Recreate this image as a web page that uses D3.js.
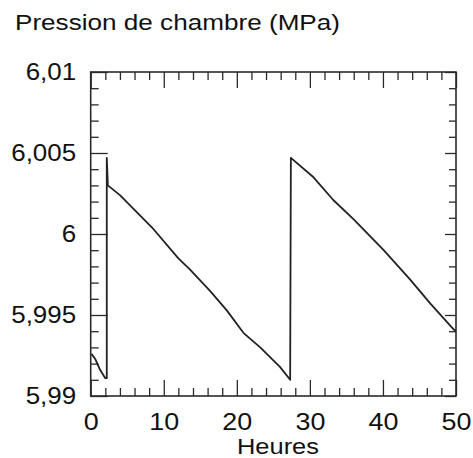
<!DOCTYPE html>
<html>
<head>
<meta charset="utf-8">
<script src="https://cdn.jsdelivr.net/npm/d3@7/dist/d3.min.js"></script>
<style>
  html, body { margin: 0; padding: 0; background: #fff; }
  text { font-family: "Liberation Sans", Arial, Helvetica, sans-serif; fill: #111; }
</style>
</head>
<body>
<svg id="chart" width="473" height="458"></svg>
<script>
// ---- data ----
const hours = [0.1, 0.6, 1.3, 2.0, 2.2, 2.2, 2.35, 4.0, 8.4, 12.0, 13.6, 16.3, 18.6, 20.9, 23.2, 25.9, 27.3,
               27.4, 30.5, 33.2, 36.0, 40.1, 43.7, 46.5, 49.7, 50.0];
const pressure = [5.9926, 5.9923, 5.9916, 5.9911, 5.9911, 6.0047, 6.0030, 6.0024, 6.0004, 5.9985, 5.9978,
                  5.9965, 5.9953, 5.9939, 5.9930, 5.9918, 5.9910,
                  6.0047, 6.0035, 6.0021, 6.0009, 5.9990, 5.9972, 5.9957, 5.9941, 5.9940];
const xTicks = [0, 10, 20, 30, 40, 50];
const xTickLabels = ["0", "10", "20", "30", "40", "50"];
const xMinorTicks = [2, 4, 6, 8, 12, 14, 16, 18, 22, 24, 26, 28, 32, 34, 36, 38, 42, 44, 46, 48];
const yTicks = [5.99, 5.995, 6, 6.005, 6.01];
const yTickLabels = ["5,99", "5,995", "6", "6,005", "6,01"];
const yMinorTicks = [5.991, 5.992, 5.993, 5.994, 5.996, 5.997, 5.998, 5.999, 6.001, 6.002, 6.003, 6.004,
                     6.006, 6.007, 6.008, 6.009];
const titleText = "Pression de chambre (MPa)";
const xTitle = "Heures";

// ---- layout ----
const L = 90.7, R = 456, T = 72, B = 396;
const svg = d3.select("#chart");
const x = d3.scaleLinear().domain([0, 50]).range([L, R]);
const y = d3.scaleLinear().domain([5.99, 6.01]).range([B, T]);
const stroke = "#2a2a2a";

function styleAxis(g) {
  g.select(".domain").remove();
  g.selectAll(".tick line").attr("stroke", stroke).attr("stroke-width", 1.3);
}
function stretch(sel, k) {
  sel.each(function () {
    const w = this.getComputedTextLength();
    d3.select(this).attr("textLength", w * k).attr("lengthAdjust", "spacingAndGlyphs");
  });
}

// bottom axis
const gb = svg.append("g").attr("transform", `translate(0,${B})`)
  .call(d3.axisBottom(x).tickValues(xTicks).tickSize(-16).tickPadding(17)
        .tickFormat((d, i) => xTickLabels[i]));
styleAxis(gb);
gb.attr("font-size", null).attr("font-family", null);
gb.selectAll("text").style("font-size", "24px").attr("fill", "#111");
svg.append("g").attr("transform", `translate(0,${B})`)
  .call(d3.axisBottom(x).tickValues(xMinorTicks).tickSize(-8).tickFormat(""))
  .call(styleAxis);

// top axis
svg.append("g").attr("transform", `translate(0,${T})`)
  .call(d3.axisTop(x).tickValues(xTicks).tickSize(-16).tickFormat(""))
  .call(styleAxis);
svg.append("g").attr("transform", `translate(0,${T})`)
  .call(d3.axisTop(x).tickValues(xMinorTicks).tickSize(-8).tickFormat(""))
  .call(styleAxis);

// left axis
const gl = svg.append("g").attr("transform", `translate(${L},0)`)
  .call(d3.axisLeft(y).tickValues(yTicks).tickSize(-17).tickPadding(14.5)
        .tickFormat((d, i) => yTickLabels[i]));
styleAxis(gl);
gl.attr("font-size", null).attr("font-family", null);
gl.selectAll("text").style("font-size", "24.5px").attr("fill", "#111");
svg.append("g").attr("transform", `translate(${L},0)`)
  .call(d3.axisLeft(y).tickValues(yMinorTicks).tickSize(-8).tickFormat(""))
  .call(styleAxis);

// right axis
svg.append("g").attr("transform", `translate(${R},0)`)
  .call(d3.axisRight(y).tickValues(yTicks).tickSize(-11).tickFormat(""))
  .call(styleAxis);
svg.append("g").attr("transform", `translate(${R},0)`)
  .call(d3.axisRight(y).tickValues(yMinorTicks).tickSize(-7).tickFormat(""))
  .call(styleAxis);

// frame
svg.append("rect").attr("x", L).attr("y", T).attr("width", R - L).attr("height", B - T)
  .attr("fill", "none").attr("stroke", stroke).attr("stroke-width", 1.6);

// data line
const pts = hours.map((h, i) => [h, pressure[i]]);
svg.append("path").datum(pts)
  .attr("fill", "none").attr("stroke", "#222").attr("stroke-width", 1.8)
  .attr("stroke-linejoin", "round")
  .attr("d", d3.line().x(d => x(d[0])).y(d => y(d[1])));

// titles
const t1 = svg.append("text").attr("x", 15).attr("y", 30).style("font-size", "22.5px").text(titleText);
const t2 = svg.append("text").attr("x", 278).attr("y", 454).attr("text-anchor", "middle")
  .style("font-size", "22.5px").text(xTitle);

stretch(gb.selectAll("text"), 1.12);
stretch(gl.selectAll("text"), 1.06);
t1.attr("textLength", 325).attr("lengthAdjust", "spacingAndGlyphs");
t2.attr("textLength", 82).attr("lengthAdjust", "spacingAndGlyphs");
</script>
</body>
</html>
